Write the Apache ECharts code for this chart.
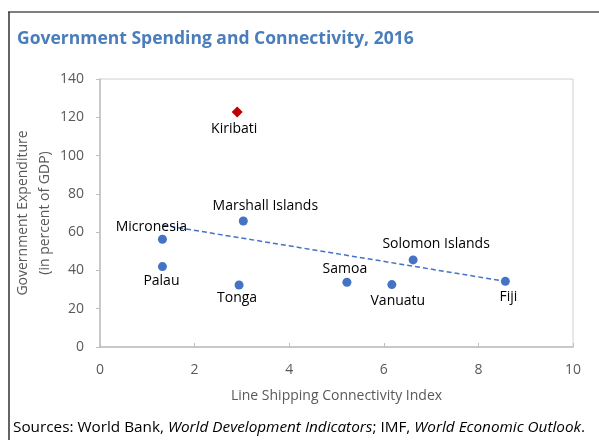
<!DOCTYPE html>
<html>
<head>
<meta charset="utf-8">
<script src="https://cdn.jsdelivr.net/npm/echarts@6/dist/echarts.min.js"></script>
<style>
  html, body { margin: 0; padding: 0; background: #fff; }
  #chart { width: 599px; height: 440px; }
</style>
</head>
<body>
<div id="chart"></div>
<script>
// Pacific island economies: connectivity vs. government spending
const countries = ['Micronesia', 'Marshall Islands', 'Palau', 'Tonga', 'Samoa', 'Vanuatu', 'Solomon Islands', 'Fiji'];
const connectivity = [1.32, 3.03, 1.32, 2.94, 5.22, 6.17, 6.62, 8.57];
const expenditure = [56.3, 65.8, 42.0, 32.4, 33.8, 32.6, 45.5, 34.3];

const outlierName = 'Kiribati';
const outlierConnectivity = 2.9;
const outlierExpenditure = 122.8;

// fitted line endpoints (x, y)
const trendX = [1.32, 8.57];
const trendY = [63.7, 34.3];

const xTicks = [0, 2, 4, 6, 8, 10];
const yTicks = [0, 20, 40, 60, 80, 100, 120, 140];

// label placement per country: [position, dx, dy]
const labelPlace = {
  'Micronesia': ['top', -11, 5],
  'Marshall Islands': ['top', 22, 2],
  'Palau': ['bottom', -1, -3],
  'Tonga': ['bottom', -2, -4],
  'Samoa': ['top', -2, 4],
  'Vanuatu': ['bottom', 6, -1],
  'Solomon Islands': ['top', 23, 2],
  'Fiji': ['bottom', 3, -2]
};

const FONT = 'Open Sans';
const blue = '#4472C4';

const chart = echarts.init(document.getElementById('chart'), null, { renderer: 'canvas' });

const pointData = countries.map((c, i) => {
  const p = labelPlace[c];
  return {
    name: c,
    value: [connectivity[i], expenditure[i]],
    label: { position: p[0], offset: [p[1], p[2]] }
  };
});

chart.setOption({
  animation: false,
  textStyle: { fontFamily: FONT },
  title: {
    text: 'Government Spending and Connectivity, 2016',
    left: 12, top: 25,
    textStyle: { fontFamily: FONT, fontSize: 17.5, fontWeight: 'bold', color: '#4A7EBB' }
  },
  graphic: [
    { type: 'line', shape: { x1: 8, y1: 12, x2: 599, y2: 12 }, style: { stroke: '#7f7f7f', lineWidth: 2 } },
    { type: 'line', shape: { x1: 9, y1: 12, x2: 9, y2: 440 }, style: { stroke: '#303030', lineWidth: 1.5 } },
    {
      type: 'text', left: 13, top: 420,
      style: {
        text: '{n|Sources: World Bank, }{i|World Development Indicators}{n|; IMF, }{i|World Economic Outlook}{n|.}',
        rich: {
          n: { fontFamily: FONT, fontSize: 15.3, fill: '#000' },
          i: { fontFamily: FONT, fontSize: 15.3, fontStyle: 'italic', fill: '#000' }
        }
      }
    }
  ],
  grid: {
    left: 100, right: 26, top: 79, bottom: 93,
    outerBoundsMode: 'none',
    show: true, borderColor: '#d0d0d0', borderWidth: 1
  },
  xAxis: {
    type: 'value', min: xTicks[0], max: xTicks[xTicks.length - 1], interval: 2,
    name: 'Line Shipping Connectivity Index',
    nameLocation: 'middle', nameGap: 42, nameMoveOverlap: false,
    nameTextStyle: { fontFamily: FONT, fontSize: 14, color: '#595959' },
    axisLine: { show: true, lineStyle: { color: '#bfbfbf', width: 1.5 } },
    axisTick: { show: true, inside: true, length: 4, lineStyle: { color: '#bfbfbf' } },
    axisLabel: { fontFamily: FONT, fontSize: 14, color: '#595959', margin: 16 },
    splitLine: { show: false }
  },
  yAxis: {
    type: 'value', min: yTicks[0], max: yTicks[yTicks.length - 1], interval: 20,
    name: 'Government Expenditure\n(in percent of GDP)',
    nameLocation: 'middle', nameGap: 44, nameMoveOverlap: false,
    nameTextStyle: { fontFamily: FONT, fontSize: 14, color: '#595959', lineHeight: 22 },
    axisLine: { show: true, lineStyle: { color: '#bfbfbf', width: 1.5 } },
    axisTick: { show: true, inside: false, length: 4, lineStyle: { color: '#bfbfbf' } },
    axisLabel: { fontFamily: FONT, fontSize: 14, color: '#595959', margin: 16 },
    splitLine: { show: false }
  },
  series: [
    {
      type: 'line',
      data: trendX.map((x, i) => [x, trendY[i]]),
      symbol: 'none',
      lineStyle: { color: blue, width: 1.5, type: [5, 3] },
      z: 1
    },
    {
      type: 'scatter',
      data: pointData,
      symbol: 'circle', symbolSize: 9,
      itemStyle: { color: blue, opacity: 1 },
      label: {
        show: true, formatter: '{b}', distance: 6,
        fontFamily: FONT, fontSize: 14, color: '#000'
      },
      z: 3
    },
    {
      type: 'scatter',
      data: [{ name: outlierName, value: [outlierConnectivity, outlierExpenditure] }],
      symbol: 'diamond', symbolSize: [11, 11],
      itemStyle: { color: '#C00000', opacity: 1 },
      label: {
        show: true, formatter: '{b}', position: 'bottom', distance: 5, offset: [-3, 0],
        fontFamily: FONT, fontSize: 14, color: '#000'
      },
      z: 3
    }
  ]
});
</script>
</body>
</html>
